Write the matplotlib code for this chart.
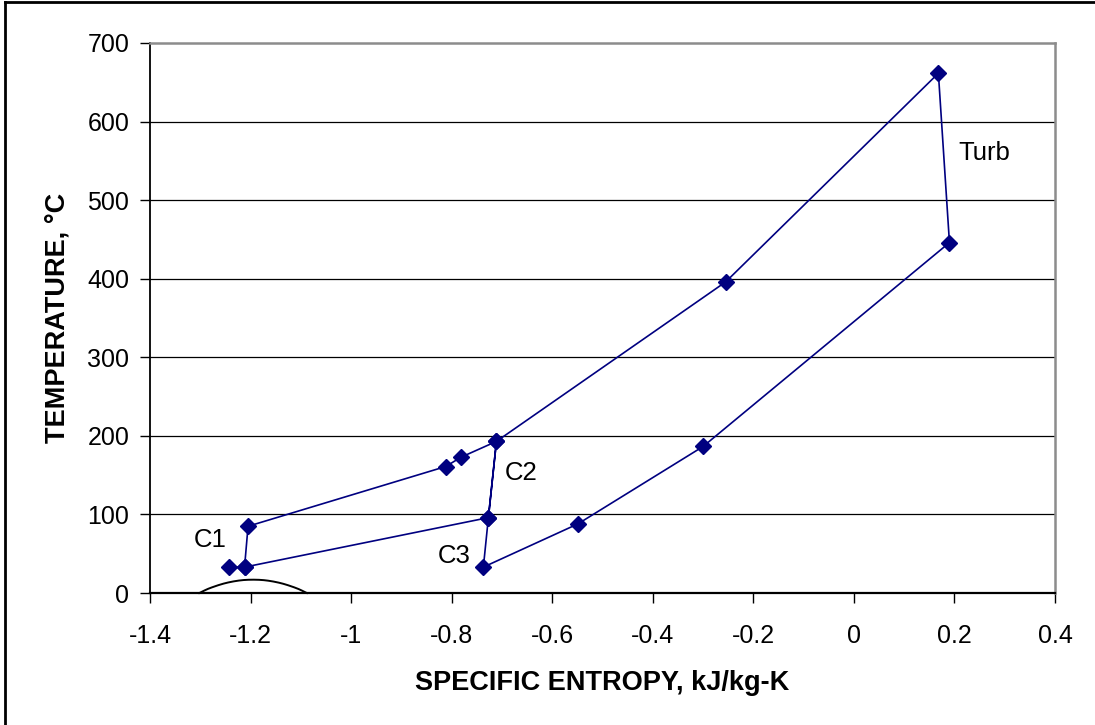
import numpy as np
import matplotlib
matplotlib.use("Agg")
import matplotlib.pyplot as plt
from matplotlib.lines import Line2D

plt.rcParams['font.family'] = ['Liberation Sans', 'DejaVu Sans']

# Cycle state points (path order; 6 -> 7 -> 2 closes the intercooled branch)
entropy = [-1.242, -1.212, -1.205, -0.812, -0.781, -0.711, -0.727, -0.737,
           -0.549, -0.300, 0.190, 0.168, -0.255, -0.711, -0.727, -1.212]
temperature = [32.6, 33, 85, 161, 173, 193, 96, 33,
               88, 186.5, 446, 661.5, 396, 193, 96, 33]

# Saturation dome
dome_s = [-1.302, -1.282, -1.252, -1.222, -1.195, -1.168, -1.138, -1.108, -1.088]
dome_T = [0, 6, 12.3, 16, 17, 16, 12.3, 6, 0]

labels = ["Turb", "C2", "C1", "C3"]
label_s = [0.2586, -0.662, -1.281, -0.796]
label_T = [551, 143.4, 58.4, 38.5]

xticks = [-1.4, -1.2, -1, -0.8, -0.6, -0.4, -0.2, 0, 0.2, 0.4]
xticklabels = ["-1.4", "-1.2", "-1", "-0.8", "-0.6", "-0.4", "-0.2", "0", "0.2", "0.4"]
yticks = [0, 100, 200, 300, 400, 500, 600, 700]


def catmull_rom(xs, ys, n=20):
    xs = np.asarray(xs, float); ys = np.asarray(ys, float)
    P = np.column_stack([xs, ys])
    P = np.vstack([2 * P[0] - P[1], P, 2 * P[-1] - P[-2]])
    out = []
    for i in range(1, len(P) - 2):
        p0, p1, p2, p3 = P[i - 1], P[i], P[i + 1], P[i + 2]
        t = np.linspace(0, 1, n, endpoint=False)[:, None]
        seg = 0.5 * ((2 * p1) + (-p0 + p2) * t + (2 * p0 - 5 * p1 + 4 * p2 - p3) * t ** 2
                     + (-p0 + 3 * p1 - 3 * p2 + p3) * t ** 3)
        out.append(seg)
    out.append(P[-2][None, :])
    out = np.vstack(out)
    return out[:, 0], out[:, 1]


fig = plt.figure(figsize=(10.95, 7.25), dpi=100)
ax = fig.add_axes([0.137, 0.182, 0.8265, 0.7587])

for yv in yticks[1:-1]:
    ax.axhline(yv, color='black', lw=0.9, zorder=1)

ds, dT = catmull_rom(dome_s, dome_T)
ax.plot(ds, dT, color='black', lw=1.4, zorder=2, clip_on=False)

ax.plot(entropy, temperature, color='#000080', lw=1.2, marker='D', ms=8.5,
        mfc='#000080', mec='#000080', zorder=3)

for t, s, T in zip(labels, label_s, label_T):
    ax.text(s, T, t, fontsize=18.5, ha='center', va='baseline', color='black')

ax.set_xlim(-1.4, 0.4)
ax.set_ylim(0, 700)
ax.set_xticks(xticks)
ax.set_xticklabels(xticklabels)
ax.set_yticks(yticks)
ax.tick_params(axis='both', direction='out', labelsize=18, colors='black')
ax.tick_params(axis='x', length=7, width=1, pad=15)
ax.tick_params(axis='y', length=7, width=1, pad=8)

ax.spines['left'].set_color('black'); ax.spines['left'].set_linewidth(1.3)
ax.spines['bottom'].set_color('black'); ax.spines['bottom'].set_linewidth(1.6)
ax.spines['top'].set_color('#8c8c8c'); ax.spines['top'].set_linewidth(1.8)
ax.spines['right'].set_color('#8c8c8c'); ax.spines['right'].set_linewidth(1.8)

ax.set_xlabel("SPECIFIC ENTROPY, kJ/kg-K", fontsize=19.5, fontweight='bold', labelpad=16)
ax.set_ylabel("TEMPERATURE, °C", fontsize=19.5, fontweight='bold', labelpad=12)

# Outer chart border (left and top visible)
fig.add_artist(Line2D([0.005, 0.005], [0, 0.997], transform=fig.transFigure, color='black', lw=2))
fig.add_artist(Line2D([0.005, 1.0], [0.997, 0.997], transform=fig.transFigure, color='black', lw=2))

fig.savefig("out.png", dpi=100)
